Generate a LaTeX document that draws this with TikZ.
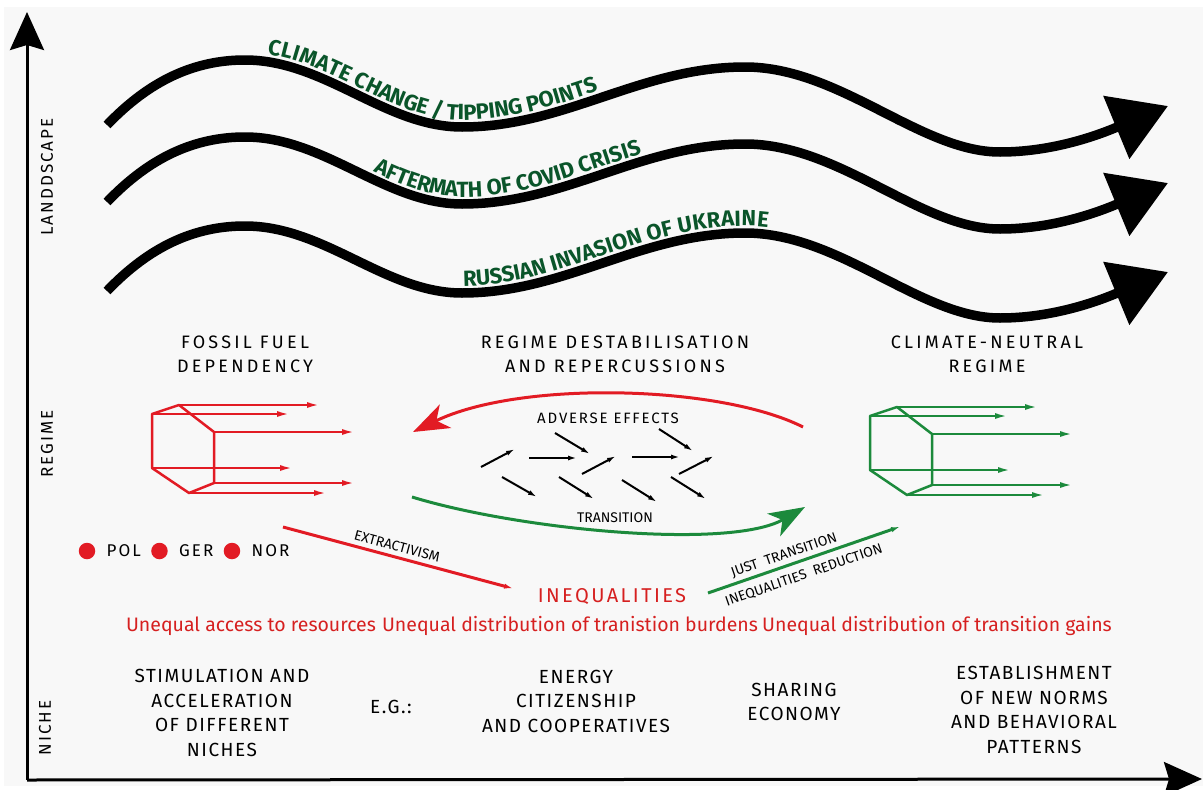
\documentclass[tikz,border=0pt]{standalone}
\usepackage{fontspec}
\setmainfont{Fira Sans}
\newfontfamily\titlefont[LetterSpace=18]{Fira Sans}
\newfontfamily\spacedfont[LetterSpace=12]{Fira Sans}
\newfontfamily\nichefont[LetterSpace=8]{Fira Sans}
\newfontfamily\wavefont{Fira Sans}
\usepackage{xcolor}
\usetikzlibrary{arrows.meta,decorations.text,positioning}

\definecolor{paper}{RGB}{248,248,248}
\definecolor{fossilred}{RGB}{226,27,36}
\definecolor{neutralgreen}{RGB}{28,138,60}
\definecolor{wavegreen}{RGB}{10,85,42}
\definecolor{ineqred}{RGB}{214,32,32}

% one landscape wave; each copy is shifted down
\newcommand\wavepath{(107,125) .. controls (150,80) and (195,60) .. (245,60)
  .. controls (325,60) and (385,127) .. (462,127)
  .. controls (565,127) and (640,67) .. (745,67)
  .. controls (840,67) and (920,152) .. (1000,152)
  .. controls (1060,152) and (1110,130) .. (1168,106)}

\begin{document}
\begin{tikzpicture}[x=1pt, y=-1pt,
  axis/.style={line width=3pt, -{Stealth[length=38pt,width=34pt,inset=5pt]}},
  wave/.style={line width=9.5pt, -{Triangle[length=56pt,width=66pt]}},
  wavetext/.style 2 args={decorate, decoration={text along path, raise=7pt,
      text align={left indent=#1},
      text={|\wavefont\fontsize{22}{22}\selectfont\bfseries\color{wavegreen}|#2}}},
  prismline/.style={line width=2.5pt, line join=round},
  prismarrow/.style={line width=2.3pt, -{Latex[length=13pt,width=6pt]}},
  prism/.pic={
    \draw[prismline] (0,0) -- (27,-9) -- (62,18) -- (62,69) -- (37,79) -- (0,54) -- cycle;
    \foreach \sx/\sy/\ex in {27/-9/168, 0/0/138, 62/18/203, 0/54/141, 62/69/203, 37/79/175}
      \draw[prismarrow] (\sx,\sy) -- (\ex,\sy);
  },
  title/.style={font=\titlefont\fontsize{18}{24}\selectfont, align=center},
  niche/.style={font=\nichefont\fontsize{19}{24.5}\selectfont, align=center},
  axislabel/.style={font=\spacedfont\fontsize{17}{17}\selectfont, rotate=90},
  turn/.style={line width=3pt, -{Stealth[length=36pt,width=26pt,inset=10pt]}},
  jitter/.style={line width=2pt, -{Latex[length=9pt,width=5pt]}},
  link/.style={line width=3pt, -{Latex[length=11pt,width=5pt]}},
  tag/.style={font=\fontsize{14}{14}\selectfont, text=black},
  dot/.style={circle, fill=fossilred, minimum size=16.5pt, inner sep=0pt},
  country/.style={font=\spacedfont\fontsize{17}{17}\selectfont, inner sep=0pt},
  gap/.style={font=\fontsize{19.5}{19.5}\selectfont, text=ineqred},
]
\useasboundingbox (0,0) rectangle (1203,790);
\fill[white] (0,0) rectangle (1203,790);
\fill[paper] (4,7) rectangle (1203,786);

% axes
\coordinate (origin) at (27,780);
\coordinate (ytop)   at (27,12);
\coordinate (xend)   at (1202,779);
\draw[axis] (origin) -- (ytop);
\draw[axis] (origin) -- (xend);

\node[axislabel] (landscape) at (47,177) {LANDDSCAPE};
\node[axislabel] (regime)    at (47,444) {REGIME};
\node[axislabel] (niche)     at (45,728) {NICHE};

% landscape pressures
\draw[wave] \wavepath;
\draw[wave, shift={(0,77)}] \wavepath;
\draw[wave, shift={(0,166)}] \wavepath;
\path[wavetext={178pt}{CLIMATE CHANGE / TIPPING POINTS}] \wavepath;
\path[wavetext={290pt}{AFTERMATH OF COVID CRISIS}, shift={(0,77)}] \wavepath;
\path[wavetext={388pt}{RUSSIAN INVASION OF UKRAINE}, shift={(0,166)}] \wavepath;

% regimes
\node[title] (fossil title)  at (245,354) {FOSSIL FUEL\\DEPENDENCY};
\node[title] (destab title)  at (615,354) {REGIME DESTABILISATION\\AND REPERCUSSIONS};
\node[title] (neutral title) at (987,354) {CLIMATE-NEUTRAL\\REGIME};

\pic[fossilred] (fossil prism) at (152,414) {prism};
\pic[neutralgreen] (neutral prism) at (870,416) {prism};

\coordinate (adv start) at (803,427);
\coordinate (adv end)   at (413,432);
\draw[turn, fossilred] (adv start) .. controls (720,385) and (520,380) .. (adv end);
\node[font=\spacedfont\fontsize{15}{15}\selectfont] (adverse) at (608,418) {ADVERSE EFFECTS};

\coordinate (tr start) at (412,497);
\coordinate (tr end)   at (805,507);
\draw[turn, neutralgreen] (tr start) .. controls (520,530) and (730,550) .. (tr end);
\node[tag] (transition) at (615,518) {TRANSITION};

% turbulence between the regimes
\foreach \ax/\ay/\bx/\by in {481/467/515/449, 529/458/577/458, 555/433/590/454,
    582/474/616/456, 632/457/680/457, 659/429/693/451, 679/474/714/456,
    502/477/537/497, 559/477/594/499, 622/480/657/502, 671/477/706/499}
  \draw[jitter] (\ax,\ay) -- (\bx,\by);

% countries
\node[dot] (pol dot) at (87,551) {};
\node[country, right=11pt of pol dot] (pol) {POL};
\node[dot, right=10pt of pol] (ger dot) {};
\node[country, right=11pt of ger dot] (ger) {GER};
\node[dot, right=10pt of ger] (nor dot) {};
\node[country, right=11pt of nor dot] (nor) {NOR};

% inequalities
\node[font=\spacedfont\fontsize{20}{20}\selectfont, text=ineqred] (ineq) at (612,597) {INEQUALITIES};

\coordinate (extr start) at (283,527);
\coordinate (extr end)   at (515,589);
\draw[link, fossilred] (extr start) --
    node[tag, sloped, above=1pt, pos=0.48] (extr label) {EXTRACTIVISM} (extr end);

\coordinate (just start) at (708,593);
\coordinate (just end)   at (902,526);
\draw[link, neutralgreen] (just start) --
    node[tag, sloped, above=0pt, pos=0.41] (just label) {JUST\ \ TRANSITION}
    node[tag, sloped, below=4pt, pos=0.47] (reduce label) {INEQUALITIES\ \ REDUCTION} (just end);

\node[gap] (access)  at (251,626) {Unequal access to resources};
\node[gap] (burdens) at (570,626) {Unequal distribution of tranistion burdens};
\node[gap] (gains)   at (937,626) {Unequal distribution of transition gains};

% niches
\node[niche] (stimulation) at (222,713) {STIMULATION AND\\ACCELERATION\\OF DIFFERENT\\NICHES};
\node[niche] (eg)          at (391,707) {E.G.:};
\node[niche] (energy)      at (576,701) {ENERGY\\CITIZENSHIP\\AND COOPERATIVES};
\node[niche] (sharing)     at (794,702) {SHARING\\ECONOMY};
\node[niche] (norms)       at (1034,710) {ESTABLISHMENT\\OF NEW NORMS\\AND BEHAVIORAL\\PATTERNS};
\end{tikzpicture}
\end{document}
